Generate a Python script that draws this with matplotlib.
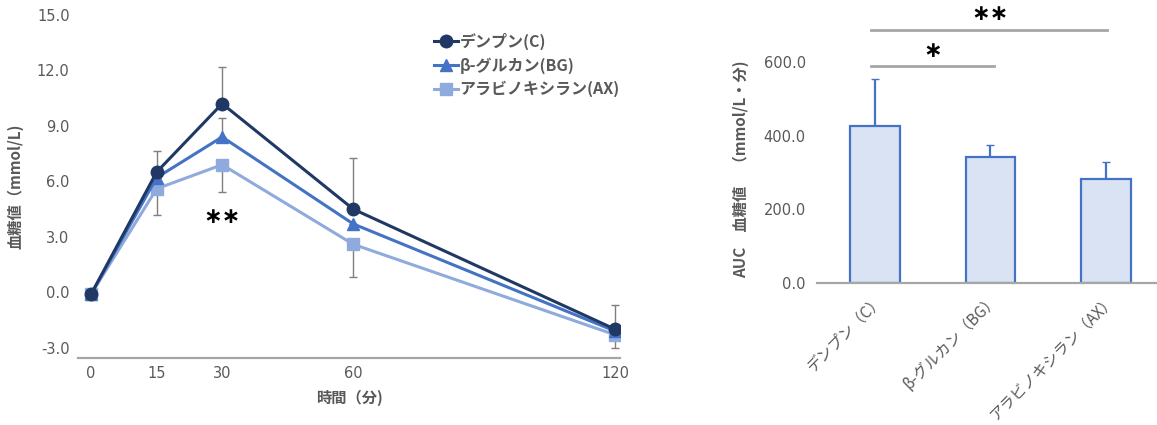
import matplotlib.pyplot as plt
import numpy as np

plt.rcParams['font.family'] = ['Noto Sans CJK JP', 'DejaVu Sans']

# time course data
times = [0, 15, 30, 60, 120]
series_names = ["デンプン(C)", "β-グルカン(BG)", "アラビノキシラン(AX)"]
glc_c = [-0.1, 6.5, 10.2, 4.5, -2.0]
glc_bg = [-0.1, 6.2, 8.4, 3.7, -2.1]
glc_ax = [-0.1, 5.6, 6.9, 2.6, -2.3]
err_c_up = [0.0, 1.15, 2.0, 2.75, 1.3]
err_bg_up = [0.0, 0.0, 1.05, 0.0, 0.0]
err_ax_down = [0.0, 1.4, 1.45, 1.75, 0.7]
x_ticks = [0, 15, 30, 60, 120]
y_ticks = [-3.0, 0.0, 3.0, 6.0, 9.0, 12.0, 15.0]

# AUC data
auc_labels = ["デンプン（C）", "β-グルカン（BG）", "アラビノキシラン（AX）"]
auc_vals = [426, 342, 282]
auc_err = [128, 32, 46]
auc_ticks = [0, 200, 400, 600]

col_c = "#203864"
col_bg = "#4472C4"
col_ax = "#8FAADC"
grey = "#595959"
spine = "#A6A6A6"
num_font = ['DejaVu Sans', 'Noto Sans CJK JP']

fig = plt.figure(figsize=(11.57, 4.25), dpi=100)

# ---- left: time course ----
ax1 = fig.add_axes([0.0674, 0.158, 0.4686, 0.807])
ax1.errorbar(times, glc_c, yerr=[np.zeros(5), err_c_up], fmt="none",
             ecolor="#7F7F7F", elinewidth=1, capsize=3, zorder=1)
ax1.errorbar(times, glc_bg, yerr=[np.zeros(5), err_bg_up], fmt="none",
             ecolor="#7F7F7F", elinewidth=1, capsize=3, zorder=1)
ax1.errorbar(times, glc_ax, yerr=[err_ax_down, np.zeros(5)], fmt="none",
             ecolor="#7F7F7F", elinewidth=1, capsize=3, zorder=1)
ax1.plot(times, glc_c, color=col_c, marker="o", ms=9, lw=2.2,
         label=series_names[0], zorder=4)
ax1.plot(times, glc_bg, color=col_bg, marker="^", ms=9, lw=2.2,
         label=series_names[1], zorder=3)
ax1.plot(times, glc_ax, color=col_ax, marker="s", ms=8, lw=2.2,
         label=series_names[2], zorder=2)

ax1.text(30, 4.1, "∗∗", ha="center", va="center", fontsize=16,
         color="black", family="DejaVu Sans", fontweight="bold")

ax1.set_xlim(-3.0, 121.1)
ax1.set_ylim(-3.54, 15)
ax1.set_xticks(x_ticks)
ax1.set_xticklabels([str(v) for v in x_ticks], fontfamily=num_font)
ax1.set_yticks(y_ticks)
ax1.set_yticklabels(["%.1f" % v for v in y_ticks], fontfamily=num_font)
ax1.tick_params(length=0, labelsize=10.5, colors=grey, pad=6)
for s in ["top", "right", "left"]:
    ax1.spines[s].set_visible(False)
ax1.spines["bottom"].set_color(spine)
ax1.spines["bottom"].set_linewidth(1.6)
ax1.set_ylabel("血糖値（mmol/L)", fontsize=11, fontweight="bold",
               color=grey, labelpad=10)
ax1.set_xlabel("時間（分)", fontsize=11, fontweight="bold", color=grey,
               labelpad=6)
leg = ax1.legend(loc="upper left", bbox_to_anchor=(0.63, 0.99), frameon=False,
                 handlelength=1.5, handletextpad=0.1, labelspacing=0.45,
                 prop={"size": 11.5, "weight": "bold"})
for t in leg.get_texts():
    t.set_color(grey)

# ---- right: AUC bars ----
ax2 = fig.add_axes([0.706, 0.334, 0.294, 0.606])
pos = np.arange(len(auc_vals))
ax2.bar(pos, auc_vals, width=0.43, color="#DAE3F3", edgecolor=col_bg,
        linewidth=1.6, zorder=2)
ax2.errorbar(pos, auc_vals, yerr=[np.zeros(3), auc_err], fmt="none",
             ecolor=col_bg, elinewidth=1.6, capsize=3, zorder=1)

# significance brackets
ax2.plot([pos[0] - 0.03, pos[1] + 0.03], [590, 590], color=spine, lw=2,
         clip_on=False)
ax2.text((pos[0] + pos[1]) / 2, 630, "∗", ha="center", va="center",
         fontsize=16, color="black", family="DejaVu Sans", fontweight="bold")
ax2.plot([pos[0] - 0.03, pos[2] + 0.01], [688, 688], color=spine, lw=2,
         clip_on=False)
ax2.text(pos[1], 732, "∗∗", ha="center", va="center", fontsize=16,
         color="black", family="DejaVu Sans", fontweight="bold")

ax2.set_xlim(-0.5, 2.44)
ax2.set_ylim(0, 700)
ax2.set_xticks(pos)
ax2.set_xticklabels(auc_labels, rotation=45, ha="right",
                    rotation_mode="anchor", fontsize=11)
ax2.set_yticks(auc_ticks)
ax2.set_yticklabels(["%.1f" % v for v in auc_ticks], fontfamily=num_font,
                    fontsize=10.5)
ax2.tick_params(axis="y", length=0, colors=grey, pad=8)
ax2.tick_params(axis="x", length=0, colors=grey, pad=6)
for s in ["top", "right", "left"]:
    ax2.spines[s].set_visible(False)
ax2.spines["bottom"].set_color(spine)
ax2.spines["bottom"].set_linewidth(1.6)
ax2.set_ylabel("AUC　血糖値　（mmol/L・分)", fontsize=11,
               fontweight="bold", color=grey)
ax2.yaxis.set_label_coords(-0.20, 0.44)

fig.savefig("out.png", dpi=100)
